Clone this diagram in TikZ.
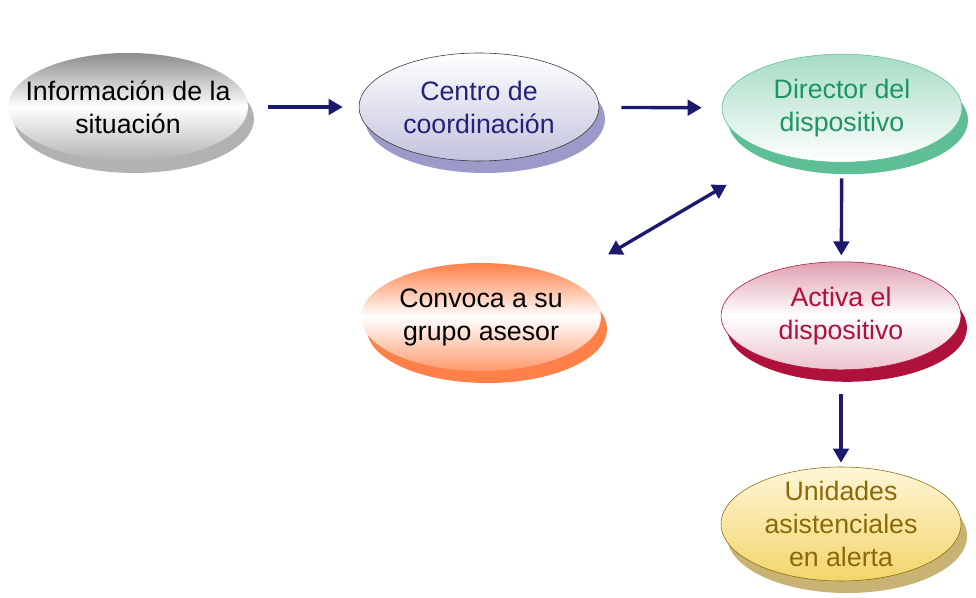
\documentclass[tikz,border=0pt]{standalone}
\usepackage{fontspec}
\setmainfont{Liberation Sans}
\usetikzlibrary{shapes.geometric, shadows, arrows.meta}

\definecolor{arrowblue}{HTML}{1C1A6E}
\definecolor{centroblue}{HTML}{22227A}
\definecolor{centroshade}{HTML}{9C9AC8}
\definecolor{dirgreen}{HTML}{1E9466}
\definecolor{dirshade}{HTML}{5EBF96}
\definecolor{convorange}{HTML}{FF8048}
\definecolor{activared}{HTML}{B0103C}
\definecolor{unigold}{HTML}{8A6A08}
\definecolor{unishade}{HTML}{C8B274}
\definecolor{unitop}{HTML}{FFF6D8}
\definecolor{unibottom}{HTML}{F2D56A}

\tikzset{
    disk/.style={ellipse, minimum width=6cm, minimum height=2.7cm,
        inner xsep=-1.3cm, inner ysep=-0.6cm, align=center,
        font=\fontsize{19}{23.5}\selectfont},
    disk shadow/.style={drop shadow={shadow xshift=0.15cm,
        shadow yshift=-0.3cm, opacity=1, fill=#1}},
    link/.style={arrowblue, line width=2.4pt,
        -{Triangle[length=10pt, width=11pt]}}
}

\begin{document}
\begin{tikzpicture}
        \useasboundingbox (0,0) rectangle (24.4,14.925);

        \node[disk, disk shadow=black!30, top color=black!45, bottom color=black!30,
            middle color=white] (info) at (3.2, 12.25) {Información de la\\situación};
        \node[disk, disk shadow=centroshade, draw=black!80, top color=white,
            bottom color=centroshade!60, text=centroblue] (centro) at (11.975, 12.25)
            {Centro de\\coordinación};
        \node[disk, disk shadow=dirshade, draw=dirshade, top color=dirshade!55,
            bottom color=white, text=dirgreen] (director) at (21.05, 12.22)
            {Director del\\dispositivo};
        \node[disk, disk shadow=convorange, top color=convorange, bottom color=convorange!80,
            middle color=white] (convoca) at (12.025, 7.0)
            {Convoca a su\\grupo asesor};
        \node[disk, disk shadow=activared, draw=activared, top color=activared!40,
            bottom color=activared!25, middle color=white, text=activared]
            (activa) at (21.025, 7.03) {Activa el\\dispositivo};
        \node[disk, disk shadow=unishade, draw=unigold, minimum height=2.85cm,
            top color=unitop, bottom color=unibottom,
            text=unigold] (unidades) at (21.025, 1.825)
            {Unidades\\asistenciales\\en alerta};

        \draw[link, shorten <=0.5cm, shorten >=0.4cm] (info) -- (centro);
        \draw[link, shorten <=0.55cm, shorten >=0.5cm] (centro) -- (director);
        \draw[link, shorten <=0.4cm, shorten >=0.15cm] (director) -- (activa);
        \draw[link, shorten <=0.6cm, shorten >=0.1cm] (activa) -- (unidades);
        \draw[link, {Triangle[length=10pt, width=11pt]}-{Triangle[length=10pt, width=11pt]},
            shorten <=1.5cm, shorten >=1.2cm] (director.216) -- (convoca.24);
    \end{tikzpicture}
\end{document}
